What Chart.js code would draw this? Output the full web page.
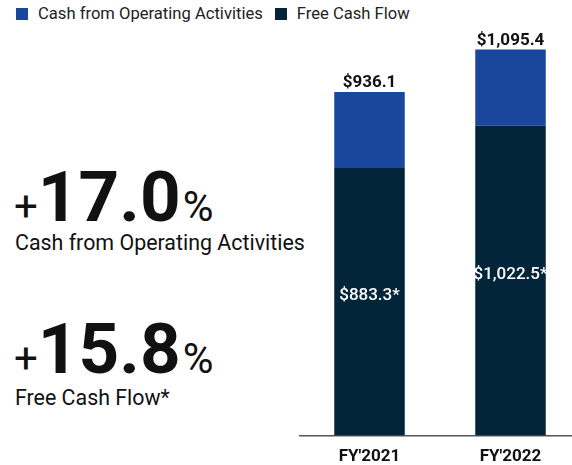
<!DOCTYPE html>
<html>
<head>
<meta charset="utf-8">
<script src="https://cdn.jsdelivr.net/npm/chart.js@4"></script>
<style>
  html, body { margin: 0; padding: 0; }
  body {
    width: 572px; height: 465px; overflow: hidden; position: relative;
    background: #fff; font-family: Roboto, "Noto Sans", sans-serif; color: #111;
  }
  .legend { position: absolute; left: 16px; top: 4px; display: flex; align-items: center; font-size: 16.6px; color: #222; }
  .legend .sw { width: 12px; height: 12px; display: inline-block; margin-right: 10px; }
  .legend .item { display: flex; align-items: center; margin-right: 12px; }
  .stat { position: absolute; left: 14px; line-height: 70px; white-space: nowrap; }
  .stat .sign { font-size: 42px; line-height: 1; }
  .stat .num { font-size: 71px; font-weight: 700; line-height: 1; }
  .stat .pct { font-size: 42px; line-height: 1; margin-left: 2px; }
  .caption { position: absolute; left: 15px; font-size: 21.4px; line-height: 24px; white-space: nowrap; }
  #chart { position: absolute; left: 299px; top: 0; }
</style>
</head>
<body>
<div class="legend">
  <div class="item"><span class="sw" style="background:#1b469e"></span>Cash from Operating Activities</div>
  <div class="item"><span class="sw" style="background:#03253a"></span>Free Cash Flow</div>
</div>

<div class="stat" style="top:161px"><span class="sign">+</span><span class="num">17.0</span><span class="pct">%</span></div>
<div class="caption" style="top:231px">Cash from Operating Activities</div>

<div class="stat" style="top:313px"><span class="sign">+</span><span class="num">15.8</span><span class="pct">%</span></div>
<div class="caption" style="top:386px">Free Cash Flow*</div>

<canvas id="chart" width="282" height="478"></canvas>

<script>
// Datos
const categories = ["FY'2021", "FY'2022"];
const freeCashFlow = [883.3, 1022.5];       // segmento oscuro
const cashFromOps = [936.1, 1095.4];        // total rotulado encima de la barra
const opsCapHeight = [251, 252];            // altura dibujada del tramo azul (no a escala en el original)

const BLUE = '#1b469e';
const DARK = '#03253a';

function money(v) {
  return '$' + v.toLocaleString('en-US', { minimumFractionDigits: 1, maximumFractionDigits: 1 });
}

// Rótulos: total arriba de cada barra y FCF dentro del tramo oscuro
const barLabels = {
  id: 'barLabels',
  afterDatasetsDraw(chart) {
    const ctx = chart.ctx;
    const dark = chart.getDatasetMeta(0).data;
    const blue = chart.getDatasetMeta(1).data;
    ctx.save();
    ctx.textAlign = 'center';
    categories.forEach((_, i) => {
      ctx.font = 'bold 17px Roboto, sans-serif';
      ctx.fillStyle = '#111';
      ctx.textBaseline = 'alphabetic';
      ctx.fillText(money(cashFromOps[i]), blue[i].x, blue[i].y - 5);

      ctx.font = '500 17px Roboto, sans-serif';
      ctx.fillStyle = '#fff';
      ctx.textBaseline = 'middle';
      ctx.fillText(money(freeCashFlow[i]) + '*', dark[i].x, (dark[i].y + dark[i].base) / 2 - 6);
    });
    ctx.restore();
  }
};

new Chart(document.getElementById('chart'), {
  type: 'bar',
  data: {
    labels: categories,
    datasets: [
      { label: 'Free Cash Flow', data: freeCashFlow, backgroundColor: DARK },
      { label: 'Cash from Operating Activities', data: opsCapHeight, backgroundColor: BLUE }
    ]
  },
  options: {
    responsive: false,
    animation: false,
    layout: { padding: 0 },
    datasets: { bar: { categoryPercentage: 1, barPercentage: 0.5 } },
    plugins: { legend: { display: false }, tooltip: { enabled: false } },
    scales: {
      x: {
        stacked: true,
        grid: { display: false, drawTicks: false },
        border: { color: '#555', width: 1.5 },
        ticks: { color: '#111', font: { family: 'Roboto', size: 17, weight: 'bold' }, padding: 11 }
      },
      y: { stacked: true, display: false, min: 0, max: 1438 }
    }
  },
  plugins: [barLabels]
});
</script>
</body>
</html>
